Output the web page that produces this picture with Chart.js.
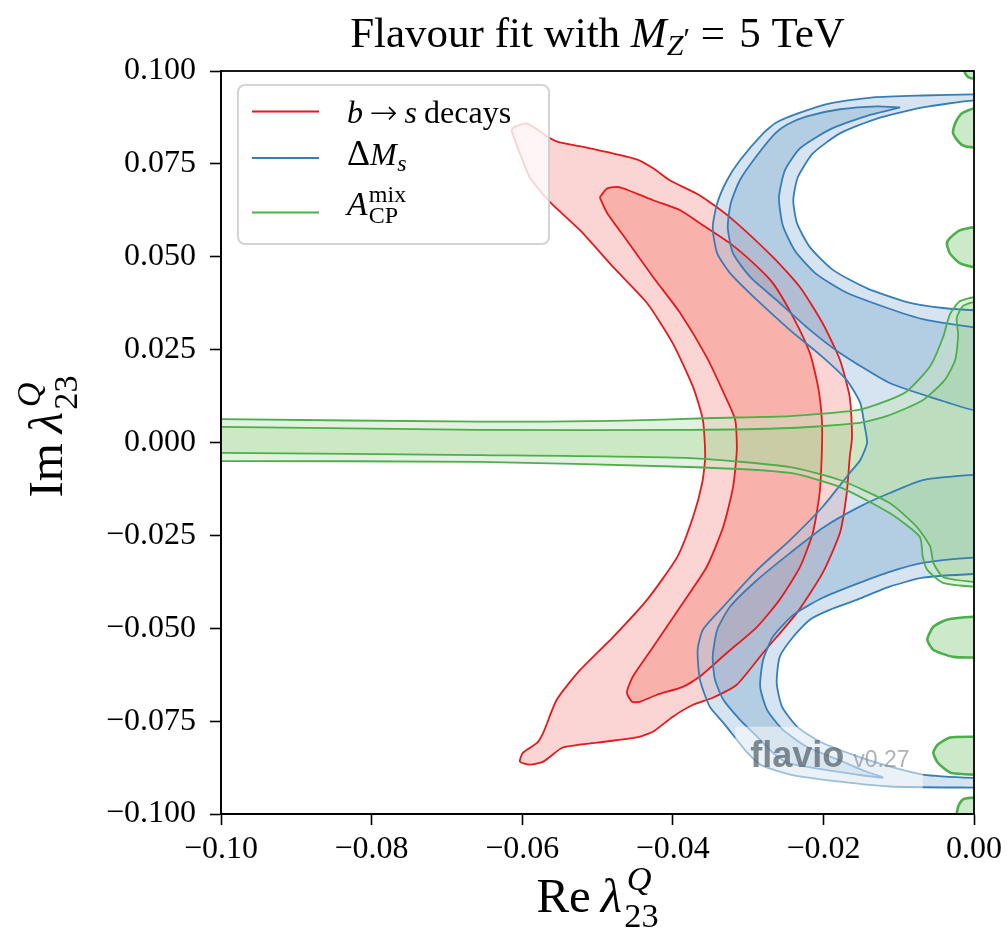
<!DOCTYPE html>
<html>
<head>
<meta charset="utf-8">
<script src="https://cdn.jsdelivr.net/npm/chart.js@4.4.1/dist/chart.umd.min.js"></script>
<style>
html,body{margin:0;padding:0;background:#fff;}
#wrap{width:1007px;height:929px;position:relative;}
canvas{display:block;}
</style>
</head>
<body>
<div id="wrap"><canvas id="c" width="1007" height="929"></canvas></div>
<script>
// ---------------- data (Re λ, Im λ) ----------------
const xTicks = [-0.10, -0.08, -0.06, -0.04, -0.02, 0.00];
const yTicks = [-0.100, -0.075, -0.050, -0.025, 0.000, 0.025, 0.050, 0.075, 0.100];
const seriesNames = ['b → s decays', 'ΔMs', 'A_CP^mix'];

// b -> s decays, 2 sigma contour
const bsOuter = [[-0.0612,0.0848],[-0.0594,0.0859],[-0.0563,0.0819],[-0.0550,0.0808],[-0.0510,0.0792],[-0.0448,0.0762],[-0.0426,0.0738],[-0.0404,0.0706],[-0.0364,0.0665],[-0.0324,0.0606],[-0.0267,0.0499],[-0.0231,0.0418],[-0.0201,0.0321],[-0.0178,0.0222],[-0.0165,0.0122],[-0.0162,0.0015],[-0.0165,-0.0039],[-0.0169,-0.0136],[-0.0178,-0.0243],[-0.0201,-0.0351],[-0.0235,-0.0458],[-0.0280,-0.0566],[-0.0315,-0.0652],[-0.0347,-0.0687],[-0.0373,-0.0706],[-0.0400,-0.0738],[-0.0426,-0.0778],[-0.0448,-0.0794],[-0.0501,-0.0808],[-0.0546,-0.0821],[-0.0572,-0.0859],[-0.0590,-0.0867],[-0.0603,-0.0859],[-0.0599,-0.0835],[-0.0580,-0.0808],[-0.0572,-0.0781],[-0.0554,-0.0692],[-0.0523,-0.0612],[-0.0479,-0.0523],[-0.0434,-0.0423],[-0.0394,-0.0308],[-0.0373,-0.0200],[-0.0361,-0.0109],[-0.0357,-0.0039],[-0.0360,0.0060],[-0.0373,0.0149],[-0.0400,0.0267],[-0.0434,0.0375],[-0.0479,0.0472],[-0.0523,0.0571],[-0.0563,0.0647],[-0.0590,0.0714],[-0.0603,0.0778],[-0.0614,0.0840]];
// b -> s decays, 1 sigma contour
const bsInner = [[-0.0497,0.0660],[-0.0487,0.0684],[-0.0470,0.0687],[-0.0426,0.0652],[-0.0390,0.0625],[-0.0364,0.0590],[-0.0324,0.0536],[-0.0293,0.0483],[-0.0267,0.0429],[-0.0240,0.0337],[-0.0218,0.0241],[-0.0207,0.0149],[-0.0202,0.0060],[-0.0202,-0.0020],[-0.0205,-0.0136],[-0.0214,-0.0243],[-0.0231,-0.0335],[-0.0258,-0.0423],[-0.0288,-0.0496],[-0.0328,-0.0566],[-0.0364,-0.0630],[-0.0386,-0.0657],[-0.0421,-0.0679],[-0.0444,-0.0698],[-0.0454,-0.0698],[-0.0461,-0.0673],[-0.0453,-0.0630],[-0.0426,-0.0550],[-0.0390,-0.0442],[-0.0355,-0.0335],[-0.0333,-0.0227],[-0.0320,-0.0120],[-0.0315,-0.0020],[-0.0317,0.0060],[-0.0328,0.0114],[-0.0355,0.0230],[-0.0390,0.0348],[-0.0426,0.0445],[-0.0461,0.0544],[-0.0487,0.0617]];

// Delta M_s, 2 sigma band (outer edge, then the two holes touching Re = 0)
const dmsOuter = [[0.004,0.0937],[0,0.0937],[-0.0068,0.0934],[-0.0134,0.0929],[-0.0191,0.0913],[-0.0231,0.0888],[-0.0262,0.0862],[-0.0280,0.0832],[-0.0311,0.0759],[-0.0328,0.0706],[-0.0341,0.0644],[-0.0347,0.0579],[-0.0341,0.0509],[-0.0324,0.0456],[-0.0288,0.0383],[-0.0244,0.0302],[-0.0201,0.0230],[-0.0169,0.0168],[-0.0151,0.0106],[-0.0145,0.0042],[-0.0142,-0.0001],[-0.0151,-0.0047],[-0.0165,-0.0082],[-0.0201,-0.0173],[-0.0244,-0.0262],[-0.0288,-0.0343],[-0.0333,-0.0442],[-0.0360,-0.0504],[-0.0367,-0.0558],[-0.0364,-0.0638],[-0.0351,-0.0711],[-0.0333,-0.0754],[-0.0315,-0.0800],[-0.0301,-0.0835],[-0.0284,-0.0867],[-0.0244,-0.0894],[-0.0178,-0.0913],[-0.0112,-0.0926],[0,-0.0929],[0.004,-0.0929],
  [0.004,-0.0903],[0,-0.0903],[-0.0068,-0.0894],[-0.0112,-0.0872],[-0.0155,-0.0845],[-0.0205,-0.0805],[-0.0235,-0.0765],[-0.0255,-0.0711],[-0.0262,-0.0647],[-0.0258,-0.0577],[-0.0240,-0.0523],[-0.0218,-0.0477],[-0.0191,-0.0450],[-0.0155,-0.0423],[-0.0112,-0.0388],[-0.0068,-0.0364],[0,-0.0354],[0.004,-0.0354],
  [0.004,0.0356],[0,0.0356],[-0.0041,0.0362],[-0.0089,0.0378],[-0.0142,0.0415],[-0.0187,0.0464],[-0.0218,0.0526],[-0.0235,0.0590],[-0.0240,0.0652],[-0.0234,0.0714],[-0.0214,0.0778],[-0.0178,0.0832],[-0.0129,0.0872],[-0.0068,0.0902],[0,0.0921],[0.004,0.0921]];
// Delta M_s, 1 sigma crescents
const dmsInnerTop = [[-0.0098,0.0902],[-0.0129,0.0905],[-0.0178,0.0897],[-0.0222,0.0878],[-0.0248,0.0856],[-0.0264,0.0832],[-0.0288,0.0773],[-0.0311,0.0706],[-0.0323,0.0644],[-0.0327,0.0579],[-0.0320,0.0509],[-0.0297,0.0445],[-0.0262,0.0383],[-0.0222,0.0310],[-0.0178,0.0241],[-0.0112,0.0160],[-0.0045,0.0114],[0,0.0087],[0.004,0.0087],[0.004,0.0310],[0,0.0310],[-0.0068,0.0332],[-0.0118,0.0364],[-0.0171,0.0405],[-0.0211,0.0456],[-0.0238,0.0517],[-0.0254,0.0585],[-0.0259,0.0660],[-0.0251,0.0733],[-0.0231,0.0792],[-0.0191,0.0843],[-0.0141,0.0880]];
const dmsInnerBottom = [[0.004,-0.0087],[0,-0.0087],[-0.0068,-0.0101],[-0.0112,-0.0136],[-0.0155,-0.0176],[-0.0201,-0.0230],[-0.0244,-0.0297],[-0.0288,-0.0370],[-0.0324,-0.0442],[-0.0341,-0.0504],[-0.0347,-0.0577],[-0.0344,-0.0638],[-0.0333,-0.0692],[-0.0311,-0.0746],[-0.0288,-0.0792],[-0.0267,-0.0835],[-0.0248,-0.0862],[-0.0201,-0.0880],[-0.0155,-0.0894],[-0.0121,-0.0902],[-0.0147,-0.0883],[-0.0178,-0.0856],[-0.0222,-0.0819],[-0.0254,-0.0773],[-0.0275,-0.0719],[-0.0284,-0.0657],[-0.0280,-0.0585],[-0.0267,-0.0523],[-0.0240,-0.0464],[-0.0201,-0.0418],[-0.0155,-0.0380],[-0.0112,-0.0348],[-0.0068,-0.0324],[0,-0.0310],[0.004,-0.0310]];

// A_CP^mix, 2 sigma and 1 sigma bands
const acpOuter = [[-0.104,0.0063],[-0.1,0.0063],[-0.0656,0.0056],[-0.0479,0.0058],[-0.0347,0.0066],[-0.0244,0.0071],[-0.0155,0.0087],[-0.0116,0.0112],[-0.0089,0.0138],[-0.0058,0.0206],[-0.0041,0.0284],[-0.0032,0.0345],[-0.0019,0.0380],[0,0.0391],[0.004,0.0391],[0.004,-0.0388],[0,-0.0388],[-0.0041,-0.0378],[-0.0062,-0.0343],[-0.0068,-0.0308],[-0.0072,-0.0254],[-0.0112,-0.0190],[-0.0178,-0.0120],[-0.0244,-0.0082],[-0.0377,-0.0066],[-0.0656,-0.0052],[-0.1,-0.0050],[-0.104,-0.0050]];
const acpInner = [[-0.104,0.0042],[-0.1,0.0042],[-0.0656,0.0034],[-0.0377,0.0034],[-0.0244,0.0039],[-0.0155,0.0052],[-0.0116,0.0071],[-0.0068,0.0114],[-0.0039,0.0168],[-0.0025,0.0222],[-0.0021,0.0289],[-0.0023,0.0335],[-0.0015,0.0367],[0,0.0378],[0.004,0.0378],[0.004,-0.0375],[0,-0.0375],[-0.0041,-0.0362],[-0.0054,-0.0324],[-0.0058,-0.0281],[-0.0076,-0.0227],[-0.0112,-0.0163],[-0.0178,-0.0101],[-0.0244,-0.0066],[-0.0377,-0.0042],[-0.0656,-0.0034],[-0.1,-0.0028],[-0.104,-0.0028]];
// A_CP^mix islands along Re = 0
const acpIslandTop = [[-0.0013,0.104],[-0.0012,0.0995],[-0.0007,0.0983],[0,0.0980],[0.004,0.0980],[0.004,0.104]];
const acpIslandA = [[0.004,0.0899],[0,0.0899],[-0.0016,0.0886],[-0.0025,0.0859],[-0.0028,0.0835],[-0.0023,0.0816],[-0.0015,0.0800],[0,0.0794],[0.004,0.0794]];
const acpIslandB = [[0.004,0.0579],[0,0.0579],[-0.0019,0.0571],[-0.0032,0.0550],[-0.0036,0.0536],[-0.0032,0.0509],[-0.0019,0.0483],[0,0.0472],[0.004,0.0472]];
const acpIslandC = [[0.004,-0.0469],[0,-0.0469],[-0.0036,-0.0477],[-0.0054,-0.0496],[-0.0062,-0.0531],[-0.0054,-0.0558],[-0.0028,-0.0577],[0,-0.0579],[0.004,-0.0579]];
const acpIslandD = [[0.004,-0.0792],[0,-0.0792],[-0.0032,-0.0794],[-0.0048,-0.0813],[-0.0054,-0.0835],[-0.0048,-0.0862],[-0.0032,-0.0888],[0,-0.0894],[0.004,-0.0894]];
const acpIslandBottom = [[0.004,-0.0956],[0,-0.0956],[-0.0015,-0.0961],[-0.0021,-0.0980],[-0.0024,-0.104],[0.004,-0.104]];

// ---------------- styling ----------------
const RED = '#e41a1c', BLUE = '#377eb8', GREEN = '#4daf4a';
const FILL = {
  red2: 'rgba(247,171,167,0.5)', red1: 'rgba(243,73,55,0.25)',
  blue2: 'rgba(173,199,225,0.5)', blue1: 'rgba(74,139,188,0.25)',
  green2: 'rgba(199,229,193,0.5)', green1: 'rgba(135,206,116,0.25)',
  greenIsland: 'rgba(173,220,168,0.625)'
};
const SERIF = '"Liberation Serif", "Times New Roman", serif';

function toPts(arr) {
  return arr.concat([arr[0]]).map(p => ({x: p[0], y: p[1]}));
}
function region(label, arr, line, fill, width, order) {
  return {
    label, data: toPts(arr), showLine: true, fill: 'shape',
    backgroundColor: fill, borderColor: line, borderWidth: width,
    pointRadius: 0, pointHoverRadius: 0, tension: 0.2, clip: 0, order
  };
}
function fmt(v, d) {
  const s = Math.abs(v).toFixed(d);
  return (v < -1e-9 ? '\u2212' : '') + s;
}

function drawRich(ctx, parts, x, y, size, align) {
  const items = parts.map(p => {
    const fs = size * (p.s || 1);
    const font = (p.w ? p.w + ' ' : '') + (p.i ? 'italic ' : '') + fs.toFixed(1) + 'px ' + (p.f || SERIF);
    ctx.font = font;
    return {p, font, w: ctx.measureText(p.t).width};
  });
  const adv = (k) => {
    const it = items[k];
    if (it.p.stack) return 0;
    const prev = k > 0 && items[k - 1].p.stack ? items[k - 1].w : 0;
    return Math.max(it.w, prev) + (it.p.k || 0) * size;
  };
  let total = 0;
  items.forEach((it, k) => { total += adv(k); });
  let cx = align === 'center' ? x - total / 2 : x;
  ctx.textAlign = 'left';
  ctx.textBaseline = 'alphabetic';
  items.forEach((it, k) => {
    ctx.font = it.font;
    ctx.fillText(it.p.t, cx + (it.p.ox || 0) * size, y + (it.p.dy || 0) * size);
    cx += adv(k);
  });
}

const titleParts = [{t: 'Flavour fit with '}, {t: 'M', i: 1}, {t: 'Z', i: 1, s: 0.7, dy: 0.18}, {t: '\u2032', s: 0.7, dy: 0.02}, {t: ' = ', k: 0.08}, {t: '5 TeV'}];
const xLabelParts = [{t: 'Re', k: 0.2}, {t: 'λ', i: 1, k: 0.05}, {t: 'Q', i: 1, s: 0.7, dy: -0.45, stack: 1, ox: 0.05}, {t: '23', s: 0.7, dy: 0.3}];
const yLabelParts = [{t: 'Im', k: 0.2}, {t: 'λ', i: 1, k: 0.05}, {t: 'Q', i: 1, s: 0.7, dy: -0.45, stack: 1, ox: 0.05}, {t: '23', s: 0.7, dy: 0.3}];
const legendParts = [
  [{t: 'b', i: 1, k: 0.2}, {t: '\u2192', f: '"DejaVu Sans", sans-serif', w: '200', s: 1.05, k: 0.22, dy: 0.02}, {t: 's', i: 1, k: 0.22}, {t: 'decays'}],
  [{t: 'Δ', s: 1.12}, {t: 'M', i: 1, k: 0.02}, {t: 's', i: 1, s: 0.75, dy: 0.2}],
  [{t: 'A', i: 1, s: 1.05, k: 0.04}, {t: 'mix', s: 0.75, dy: -0.42, stack: 1}, {t: 'CP', s: 0.75, dy: 0.25}]
];
const legendColors = [RED, BLUE, GREEN];

const decor = {
  id: 'decor',
  afterDatasetsDraw(chart) {
    const {ctx, chartArea: a, scales: {x, y}} = chart;
    // flavio watermark
    ctx.save();
    ctx.beginPath(); ctx.rect(a.left, a.top, a.right - a.left, a.bottom - a.top); ctx.clip();
    const bx0 = x.getPixelForValue(-0.0317), bx1 = x.getPixelForValue(-0.0068);
    const by0 = y.getPixelForValue(-0.0765), by1 = y.getPixelForValue(-0.0934);
    ctx.fillStyle = 'rgba(255,255,255,0.5)';
    ctx.fillRect(bx0, by0, bx1 - bx0, by1 - by0);
    ctx.textAlign = 'left'; ctx.textBaseline = 'alphabetic';
    ctx.fillStyle = 'rgba(90,100,110,0.75)';
    ctx.font = 'bold 36px "Liberation Sans", Arial, sans-serif';
    ctx.fillText('flavio', bx0 + 15, by0 + 40);
    ctx.fillStyle = 'rgba(120,128,136,0.6)';
    ctx.font = '23px "Liberation Sans", Arial, sans-serif';
    ctx.fillText('v0.27', bx0 + 118, by0 + 40);
    ctx.restore();

    // legend
    ctx.save();
    const lx = a.left + 17, ly = a.top + 14, lw = 311, lh = 159;
    ctx.beginPath();
    if (ctx.roundRect) ctx.roundRect(lx, ly, lw, lh, 7); else ctx.rect(lx, ly, lw, lh);
    ctx.fillStyle = 'rgba(255,255,255,0.8)';
    ctx.fill();
    ctx.lineWidth = 2;
    ctx.strokeStyle = 'rgba(204,204,204,0.85)';
    ctx.stroke();
    const rows = [40.5, 87, 141.5];
    const base = [52, 94, 144];
    rows.forEach((ry, k) => {
      ctx.strokeStyle = legendColors[k];
      ctx.lineWidth = 2.2;
      ctx.beginPath();
      ctx.moveTo(a.left + 31, a.top + ry);
      ctx.lineTo(a.left + 98, a.top + ry);
      ctx.stroke();
      ctx.fillStyle = '#000';
      drawRich(ctx, legendParts[k], a.left + 126, a.top + base[k], 32, 'left');
    });
    ctx.restore();
  },
  afterDraw(chart) {
    const {ctx, chartArea: a} = chart;
    ctx.save();
    ctx.strokeStyle = '#000';
    ctx.lineWidth = 1.8;
    ctx.strokeRect(a.left, a.top, a.right - a.left, a.bottom - a.top);
    ctx.fillStyle = '#000';
    const cx = (a.left + a.right) / 2;
    drawRich(ctx, titleParts, cx, 47, 43, 'center');
    drawRich(ctx, xLabelParts, cx, 912, 49, 'center');
    ctx.translate(62, (a.top + a.bottom) / 2 - 6);
    ctx.rotate(-Math.PI / 2);
    drawRich(ctx, yLabelParts, 0, 0, 49, 'center');
    ctx.restore();
  }
};

const datasets = [
  region(seriesNames[0] + ' 2σ', bsOuter, RED, FILL.red2, 1.8, 30),
  region(seriesNames[0] + ' 1σ', bsInner, RED, FILL.red1, 1.8, 29),
  region(seriesNames[1] + ' 2σ', dmsOuter, BLUE, FILL.blue2, 1.8, 20),
  region(seriesNames[1] + ' 1σ top', dmsInnerTop, BLUE, FILL.blue1, 1.8, 19),
  region(seriesNames[1] + ' 1σ bottom', dmsInnerBottom, BLUE, FILL.blue1, 1.8, 18),
  region(seriesNames[2] + ' 2σ', acpOuter, GREEN, FILL.green2, 1.8, 10),
  region(seriesNames[2] + ' 1σ', acpInner, GREEN, FILL.green1, 1.8, 9),
  region(seriesNames[2] + ' island', acpIslandTop, GREEN, FILL.greenIsland, 2.6, 8),
  region(seriesNames[2] + ' island', acpIslandA, GREEN, FILL.greenIsland, 2.6, 8),
  region(seriesNames[2] + ' island', acpIslandB, GREEN, FILL.greenIsland, 2.6, 8),
  region(seriesNames[2] + ' island', acpIslandC, GREEN, FILL.greenIsland, 2.6, 8),
  region(seriesNames[2] + ' island', acpIslandD, GREEN, FILL.greenIsland, 2.6, 8),
  region(seriesNames[2] + ' island', acpIslandBottom, GREEN, FILL.greenIsland, 2.6, 8)
];

new Chart(document.getElementById('c'), {
  type: 'scatter',
  data: {datasets},
  options: {
    responsive: false,
    maintainAspectRatio: false,
    devicePixelRatio: 1,
    animation: false,
    events: [],
    layout: {padding: {top: 71, right: 33, bottom: 0, left: 0}},
    plugins: {
      legend: {display: false}, tooltip: {enabled: false}, title: {display: false},
      filler: {drawTime: 'beforeDatasetsDraw'}
    },
    scales: {
      x: {
        type: 'linear', position: 'bottom', min: -0.1, max: 0,
        afterBuildTicks(s) { s.ticks = xTicks.map(v => ({value: v})); },
        afterFit(s) { s.height = 115; s.paddingLeft = 0; s.paddingRight = 0; },
        ticks: {callback: v => fmt(v, 2), color: '#000', font: {family: SERIF, size: 32}, padding: 5, maxRotation: 0, minRotation: 0, autoSkip: false},
        grid: {drawOnChartArea: false, drawTicks: true, tickLength: 11, tickWidth: 1.6, tickColor: '#000'},
        border: {display: true, color: '#000', width: 1.8}
      },
      y: {
        type: 'linear', position: 'left', min: -0.1, max: 0.1,
        afterBuildTicks(s) { s.ticks = yTicks.map(v => ({value: v})); },
        afterFit(s) { s.width = 221; s.paddingTop = 0; s.paddingBottom = 0; },
        ticks: {callback: v => fmt(v, 3), color: '#000', font: {family: SERIF, size: 32}, padding: 14, autoSkip: false},
        grid: {drawOnChartArea: false, drawTicks: true, tickLength: 11, tickWidth: 1.6, tickColor: '#000'},
        border: {display: true, color: '#000', width: 1.8}
      }
    }
  },
  plugins: [decor]
});
</script>
</body>
</html>
